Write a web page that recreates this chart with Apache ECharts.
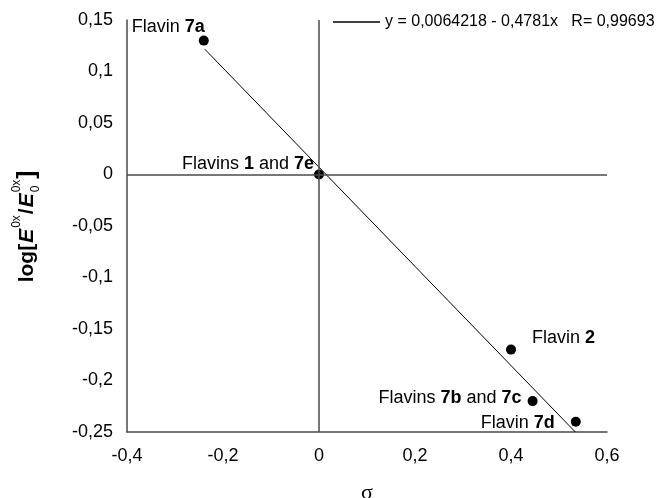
<!DOCTYPE html>
<html><head><meta charset="utf-8">
<script src="https://cdn.jsdelivr.net/npm/echarts@6/dist/echarts.min.js"></script>
<style>html,body{margin:0;padding:0;background:#fff}#c{width:656px;height:498px}</style>
</head><body><div id="c"></div>
<script>
// ---- data ----
const sigmaValues    = [-0.24, 0, 0.40, 0.445, 0.535];
const logRatioValues = [0.13, 0, -0.17, -0.22, -0.24];
const pointLabels    = ['Flavin {b|7a}', 'Flavins {b|1} and {b|7e}', 'Flavin {b|2}', 'Flavins {b|7b} and {b|7c}', 'Flavin {b|7d}'];
const fitLineX = [-0.238, 0.534];
const fitLineY = [0.1217, -0.25];
const fitName = 'y = 0,0064218 - 0,4781x   R= 0,99693';
const xTickLabels = ['-0,4', '-0,2', '0', '0,2', '0,4', '0,6'];
const yTickLabels = ['-0,25', '-0,2', '-0,15', '-0,1', '-0,05', '0', '0,05', '0,1', '0,15'];

const FF = '"Liberation Sans", Arial, Helvetica, sans-serif';
const AXIS_COLOR = '#4a4a4a';

// label placement (style only)
const labelLayout = [
  {align: 'right', offset: [1, -14]},
  {align: 'right', offset: [-5, -10]},
  {align: 'left',  offset: [21, -12]},
  {align: 'right', offset: [-11, -3]},
  {align: 'right', offset: [-21, 1]}
];

// y-axis title built as rotated text pieces
const ctx = document.createElement('canvas').getContext('2d');
function tw(t, f) { ctx.font = f; return ctx.measureText(t).width; }
const fBig = 'bold 21px ' + FF, fBigI = 'italic bold 21px ' + FF, fSmall = '12px ' + FF, fBr = 'bold 24px ' + FF;
const pieces = [
  [{t: 'log[', f: fBig, dy: 0}],
  [{t: 'E', f: fBigI, dy: 0}],
  [{t: '0x', f: fSmall, dy: -10}],
  [{t: '/', f: fBig, dy: 0}],
  [{t: 'E', f: fBigI, dy: 0}],
  [{t: '0', f: fSmall, dy: 9}, {t: '0x', f: fSmall, dy: -10}],
  [{t: ']', f: fBr, dy: 0}]
];
let total = 0;
pieces.forEach(g => { total += Math.max.apply(null, g.map(p => tw(p.t, p.f))) + 1; });
let cur = -total / 2;
const titleChildren = [];
pieces.forEach(g => {
  let adv = 0;
  g.forEach(p => {
    titleChildren.push({type: 'text', x: cur, y: p.dy,
      style: {text: p.t, font: p.f, fill: '#000', align: 'left', textAlign: 'left', verticalAlign: 'middle', textVerticalAlign: 'middle'}});
    adv = Math.max(adv, tw(p.t, p.f));
  });
  cur += adv + 1;
});

const chart = echarts.init(document.getElementById('c'), null, {renderer: 'canvas'});
chart.setOption({
  animation: false,
  backgroundColor: '#fff',
  grid: {left: 127, right: 49, top: 20, bottom: 66, containLabel: false, outerBoundsMode: 'none'},
  legend: {
    left: 328, top: 9, data: [fitName], icon: 'rect', itemWidth: 47, itemHeight: 1.5,
    textStyle: {fontSize: 16, fontFamily: FF, color: '#000'}
  },
  xAxis: {
    type: 'value', min: -0.4, max: 0.6, interval: 0.2,
    name: 'σ', nameLocation: 'middle', nameGap: 50,
    nameTextStyle: {fontSize: 22, fontFamily: '"Liberation Serif", "DejaVu Serif", serif', color: '#000'},
    axisLine: {onZero: false, lineStyle: {color: AXIS_COLOR, width: 1.5}},
    axisTick: {show: false}, splitLine: {show: false},
    axisLabel: {fontSize: 18, fontFamily: FF, color: '#000', margin: 15,
      formatter: (v, i) => xTickLabels[i]}
  },
  yAxis: {
    type: 'value', min: -0.25, max: 0.15, interval: 0.05,
    axisLine: {show: true, onZero: false, lineStyle: {color: AXIS_COLOR, width: 1.5}},
    axisTick: {show: false}, splitLine: {show: false},
    axisLabel: {fontSize: 18, fontFamily: FF, color: '#000', margin: 14,
      formatter: (v, i) => yTickLabels[i]}
  },
  graphic: [{type: 'group', x: 27, y: 226, rotation: Math.PI / 2, children: titleChildren}],
  series: [
    {
      name: fitName, type: 'line', symbol: 'none', z: 3,
      data: fitLineX.map((x, i) => [x, fitLineY[i]]),
      lineStyle: {color: '#000', width: 1}, itemStyle: {color: '#000'},
      markLine: {
        silent: true, symbol: ['none', 'none'], label: {show: false},
        lineStyle: {color: AXIS_COLOR, width: 1.5, type: 'solid', opacity: 1},
        data: [{xAxis: 0}, {yAxis: 0}]
      }
    },
    {
      name: 'points', type: 'scatter', symbol: 'circle', symbolSize: 10, z: 4,
      itemStyle: {color: '#000', opacity: 1},
      data: sigmaValues.map((x, i) => ({
        value: [x, logRatioValues[i]],
        label: {
          show: true, position: 'inside', formatter: pointLabels[i],
          align: labelLayout[i].align, verticalAlign: 'middle', offset: labelLayout[i].offset,
          fontSize: 18, fontFamily: FF, color: '#000', opacity: 1,
          rich: {b: {fontWeight: 'bold', fontSize: 18, fontFamily: FF, color: '#000'}}
        }
      }))
    }
  ]
});
</script>
</body></html>
